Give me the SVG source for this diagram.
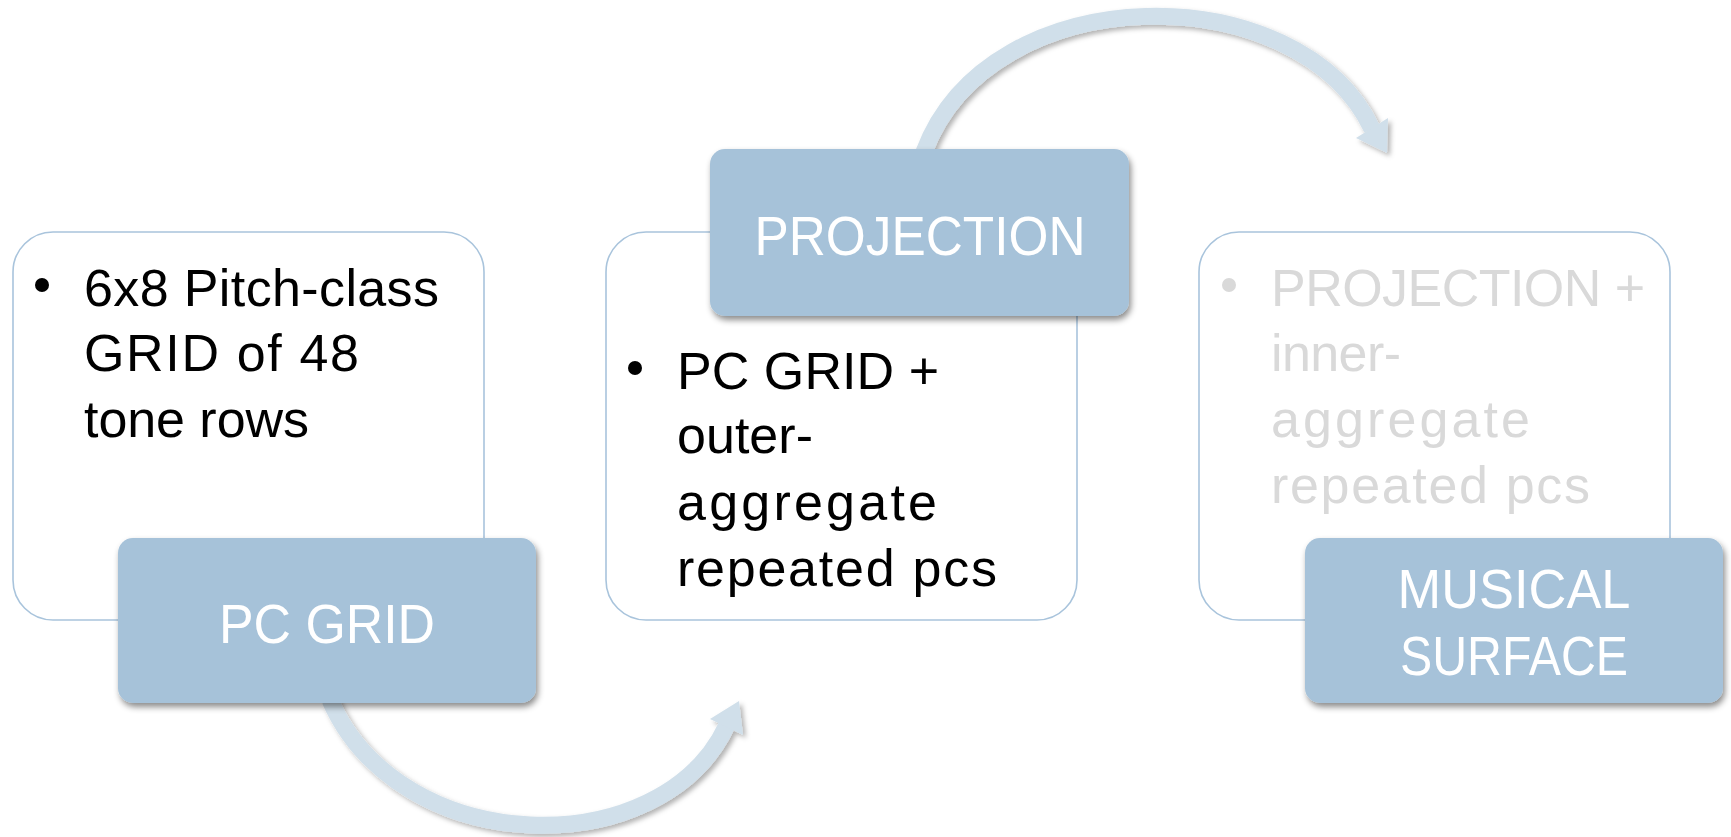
<svg xmlns="http://www.w3.org/2000/svg" width="1731" height="837" viewBox="0 0 1731 837">
<style>
.card{fill:#ffffff;stroke:#a9c4dc;stroke-width:1.6}
.tab{fill:#a6c2d9}
.body{font-family:"Liberation Sans",Arial,sans-serif;font-size:52px;fill:#000000}
.body.dim{fill:#d9d9d9}
.lbl{font-family:"Liberation Sans",Arial,sans-serif;font-size:56px;fill:#ffffff;text-anchor:middle}
.shaft{fill:none;stroke:#d0dfea;stroke-width:17}
.head{fill:#d0dfea}
</style>
<defs>
<filter id="sh" x="-10%" y="-10%" width="125%" height="130%">
<feDropShadow dx="2" dy="4" stdDeviation="3" flood-color="#000" flood-opacity="0.45"/>
</filter>
<filter id="ash" x="-10%" y="-10%" width="125%" height="130%">
<feDropShadow dx="3" dy="3" stdDeviation="2.5" flood-color="#000" flood-opacity="0.3"/>
</filter>
</defs>
<g id="connectors">
<g filter="url(#ash)">
<path class="shaft" d="M 330 700 C 400 860, 662 865, 727 725"/>
<polygon class="head" points="739,701 743,735 710,719"/>
</g>
<g filter="url(#ash)">
<path class="shaft" d="M 924 152 C 990 -25, 1300 -25, 1372 129"/>
<polygon class="head" points="1387,153 1356,138 1388,118"/>
</g>
</g>
<g id="node-pcgrid">
<rect class="card" x="13" y="232" width="471" height="388" rx="40"/>
<circle cx="42" cy="285" r="7" fill="#000"/>
<text class="body" x="84" y="306" textLength="355" lengthAdjust="spacing">6x8 Pitch-class</text>
<text class="body" x="84" y="371" textLength="275" lengthAdjust="spacing">GRID of 48</text>
<text class="body" x="84" y="437" textLength="225" lengthAdjust="spacing">tone rows</text>
<rect class="tab" filter="url(#sh)" x="118" y="538" width="418" height="165" rx="15"/>
<text class="lbl" x="327" y="643" textLength="216" lengthAdjust="spacingAndGlyphs">PC GRID</text>
</g>
<g id="node-projection">
<rect class="card" x="606" y="232" width="471" height="388" rx="40"/>
<circle cx="635" cy="368" r="7" fill="#000"/>
<text class="body" x="677" y="389" textLength="262" lengthAdjust="spacing">PC GRID +</text>
<text class="body" x="677" y="453" textLength="136" lengthAdjust="spacing">outer-</text>
<text class="body" x="677" y="520" textLength="260" lengthAdjust="spacing">aggregate</text>
<text class="body" x="677" y="586" textLength="320" lengthAdjust="spacing">repeated pcs</text>
<rect class="tab" filter="url(#sh)" x="710" y="149" width="419" height="167" rx="15"/>
<text class="lbl" x="920" y="255" textLength="331" lengthAdjust="spacingAndGlyphs">PROJECTION</text>
</g>
<g id="node-surface">
<rect class="card" x="1199" y="232" width="471" height="388" rx="40"/>
<circle cx="1229" cy="285" r="7" fill="#d9d9d9"/>
<text class="body dim" x="1271" y="306" textLength="374" lengthAdjust="spacing">PROJECTION +</text>
<text class="body dim" x="1271" y="371" textLength="130" lengthAdjust="spacing">inner-</text>
<text class="body dim" x="1271" y="437" textLength="259" lengthAdjust="spacing">aggregate</text>
<text class="body dim" x="1271" y="503" textLength="319" lengthAdjust="spacing">repeated pcs</text>
<rect class="tab" filter="url(#sh)" x="1305" y="538" width="418" height="165" rx="15"/>
<text class="lbl" x="1514" y="608" textLength="233" lengthAdjust="spacingAndGlyphs">MUSICAL</text>
<text class="lbl" x="1514" y="675" textLength="228" lengthAdjust="spacingAndGlyphs">SURFACE</text>
</g>
</svg>
